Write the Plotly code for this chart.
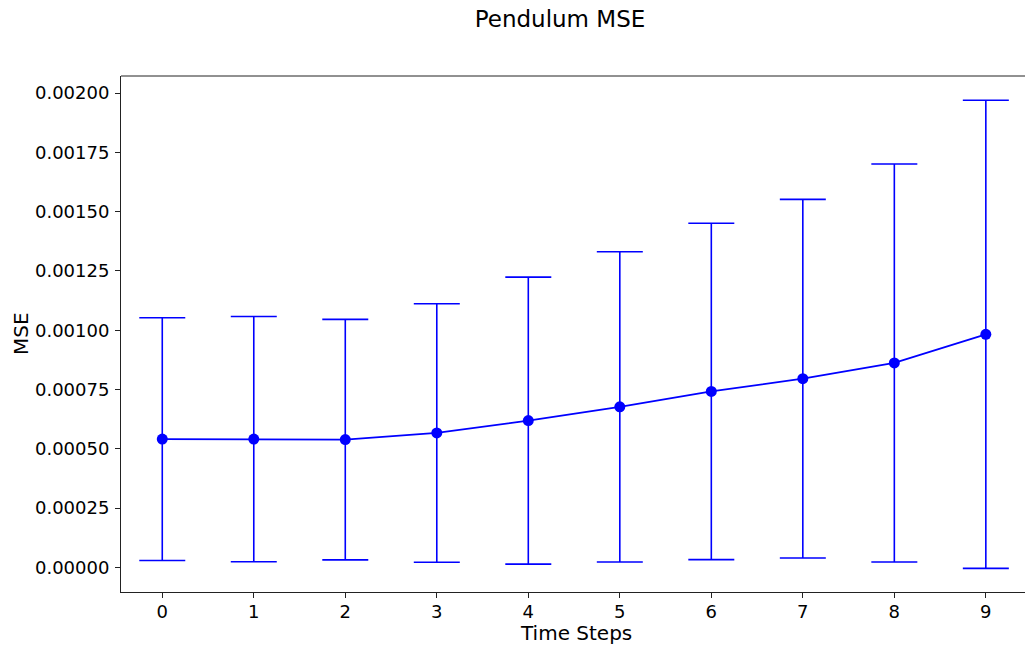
import plotly.graph_objects as go

time_steps = [0, 1, 2, 3, 4, 5, 6, 7, 8, 9]
mse_mean = [0.000541, 0.000541, 0.000539, 0.000567, 0.000619,
            0.000677, 0.000742, 0.000796, 0.000862, 0.000983]
mse_std = [0.000512, 0.000517, 0.000507, 0.000545, 0.000605,
           0.000654, 0.000709, 0.000756, 0.000839, 0.000987]
y_ticks = [0, 0.00025, 0.0005, 0.00075, 0.001, 0.00125, 0.0015, 0.00175, 0.002]

FONT = "DejaVu Sans"

fig = go.Figure()
fig.add_trace(go.Scatter(
    x=time_steps, y=mse_mean, mode="lines+markers",
    line=dict(color="#0000ff", width=1.8),
    marker=dict(color="#0000ff", size=11),
    error_y=dict(type="data", array=mse_std, visible=True,
                 color="#0000ff", thickness=1.6, width=23),
    showlegend=False,
))

fig.update_layout(
    width=1025, height=672,
    margin=dict(l=121, r=0, t=76, b=80),
    paper_bgcolor="white", plot_bgcolor="white",
    font=dict(family=FONT, color="black", size=18),
    title=dict(text="Pendulum MSE", x=(560 - 121) / 904, xref="paper",
               xanchor="center", y=1 - 19 / 672, yref="container",
               yanchor="middle", font=dict(size=23, family=FONT)),
    xaxis=dict(range=[-0.451, 9.428], tickvals=time_steps,
               ticktext=[str(t) for t in time_steps],
               showgrid=False, zeroline=False, showline=True,
               linecolor="#222", linewidth=1, ticks="outside", ticklen=5,
               tickcolor="#222", tickfont=dict(size=18), mirror=False,
               ticklabelstandoff=-2),
    yaxis=dict(range=[-0.0001036, 0.002072], tickvals=y_ticks,
               ticktext=[f"{v:.5f}" for v in y_ticks],
               showgrid=False, zeroline=False, showline=True,
               linecolor="#222", linewidth=1, ticks="outside", ticklen=5,
               tickcolor="#222", tickfont=dict(size=18),
               ticklabelstandoff=2),
    shapes=[dict(type="line", xref="paper", yref="paper", x0=0, x1=1,
                 y0=1, y1=1, line=dict(color="#222", width=1))],
    annotations=[
        dict(text="Time Steps", xref="paper", yref="paper",
             x=(576 - 121) / 904, y=-(633 - 592) / 516, xanchor="center",
             yanchor="middle", showarrow=False, font=dict(size=20)),
        dict(text="MSE", xref="paper", yref="paper",
             x=-(121 - 21) / 904, y=(592 - 334) / 516,
             xanchor="center", yanchor="middle", textangle=-90,
             showarrow=False, font=dict(size=20)),
    ],
)

fig.write_html("out.html")
